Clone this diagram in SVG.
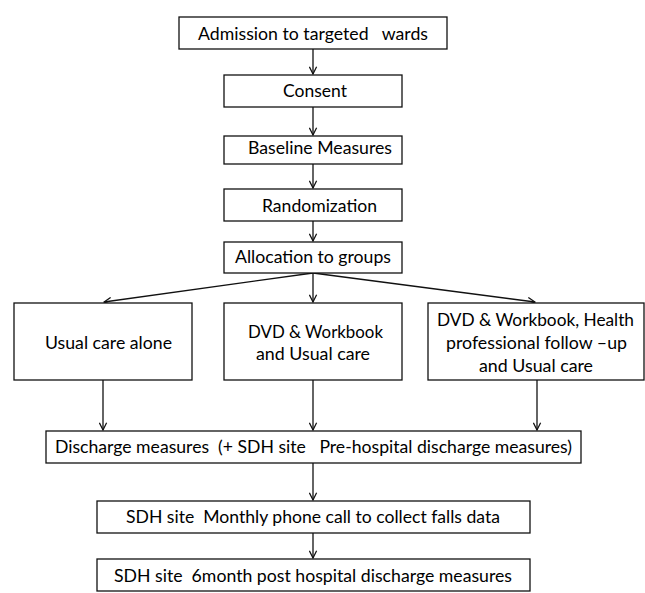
<svg xmlns="http://www.w3.org/2000/svg" width="645" height="593" viewBox="0 0 645 593">
<defs>
<style>
.box{fill:#fff;stroke:#111;stroke-width:1.3}
.t{font-family:Lato,"Liberation Sans",sans-serif;font-size:17.5px;fill:#000;text-anchor:middle;white-space:pre}
.c{stroke:#111;stroke-width:1.3;fill:none}
</style>
<marker id="ah" viewBox="0 0 10 10" refX="9" refY="5" markerWidth="9" markerHeight="9" markerUnits="userSpaceOnUse" orient="auto">
<path d="M1,1 L9,5 L1,9" fill="none" stroke="#111" stroke-width="1.4"/>
</marker>
</defs>
<rect width="645" height="593" fill="#fff"/>
<g id="connectors">
<line class="c" x1="313" y1="49" x2="313" y2="74" marker-end="url(#ah)"/>
<line class="c" x1="313" y1="107" x2="313" y2="135" marker-end="url(#ah)"/>
<line class="c" x1="313" y1="164" x2="313" y2="188" marker-end="url(#ah)"/>
<line class="c" x1="313" y1="221" x2="313" y2="241" marker-end="url(#ah)"/>
<line class="c" x1="313" y1="273" x2="104" y2="302" marker-end="url(#ah)"/>
<line class="c" x1="313" y1="273" x2="313" y2="302" marker-end="url(#ah)"/>
<line class="c" x1="313" y1="273" x2="535" y2="302" marker-end="url(#ah)"/>
<line class="c" x1="103" y1="380" x2="103" y2="430" marker-end="url(#ah)"/>
<line class="c" x1="313" y1="380" x2="313" y2="430" marker-end="url(#ah)"/>
<line class="c" x1="537" y1="380" x2="537" y2="430" marker-end="url(#ah)"/>
<line class="c" x1="313" y1="463" x2="313" y2="500" marker-end="url(#ah)"/>
<line class="c" x1="313" y1="533" x2="313" y2="558" marker-end="url(#ah)"/>
</g>
<g id="n1"><rect class="box" x="179" y="17" width="268" height="32"/><text class="t" x="313" y="40" textLength="230" lengthAdjust="spacingAndGlyphs">Admission to targeted   wards</text></g>
<g id="n2"><rect class="box" x="224" y="75" width="178" height="32"/><text class="t" x="315" y="97" textLength="64" lengthAdjust="spacingAndGlyphs">Consent</text></g>
<g id="n3"><rect class="box" x="224" y="136" width="178" height="28"/><text class="t" x="320" y="154" textLength="144" lengthAdjust="spacingAndGlyphs">Baseline Measures</text></g>
<g id="n4"><rect class="box" x="224" y="189" width="178" height="32"/><text class="t" x="319.500" y="212" textLength="115" lengthAdjust="spacingAndGlyphs">Randomization</text></g>
<g id="n5"><rect class="box" x="224" y="242" width="178" height="31"/><text class="t" x="313" y="263" textLength="156" lengthAdjust="spacingAndGlyphs">Allocation to groups</text></g>
<g id="n6"><rect class="box" x="14" y="303" width="178" height="77"/><text class="t" x="108.500" y="349" textLength="127" lengthAdjust="spacingAndGlyphs">Usual care alone</text></g>
<g id="n7"><rect class="box" x="224" y="303" width="178" height="77"/><text class="t" x="315.500" y="338" textLength="135" lengthAdjust="spacingAndGlyphs">DVD &amp; Workbook</text><text class="t" x="313" y="360" textLength="114" lengthAdjust="spacingAndGlyphs">and Usual care</text></g>
<g id="n8"><rect class="box" x="428" y="303" width="216" height="77"/><text class="t" x="535.500" y="326" textLength="197" lengthAdjust="spacingAndGlyphs">DVD &amp; Workbook, Health</text><text class="t" x="536.500" y="349" textLength="181" lengthAdjust="spacingAndGlyphs">professional follow –up</text><text class="t" x="536" y="372" textLength="114" lengthAdjust="spacingAndGlyphs">and Usual care</text></g>
<g id="n9"><rect class="box" x="46" y="431" width="535" height="32"/><text class="t" x="313.500" y="453" textLength="517" lengthAdjust="spacingAndGlyphs">Discharge measures  (+ SDH site   Pre-hospital discharge measures)</text></g>
<g id="n10"><rect class="box" x="97" y="501" width="433" height="32"/><text class="t" x="313" y="523" textLength="374" lengthAdjust="spacingAndGlyphs">SDH site  Monthly phone call to collect falls data</text></g>
<g id="n11"><rect class="box" x="97" y="559" width="433" height="32"/><text class="t" x="313" y="582" textLength="398" lengthAdjust="spacingAndGlyphs">SDH site  6month post hospital discharge measures</text></g>
</svg>
